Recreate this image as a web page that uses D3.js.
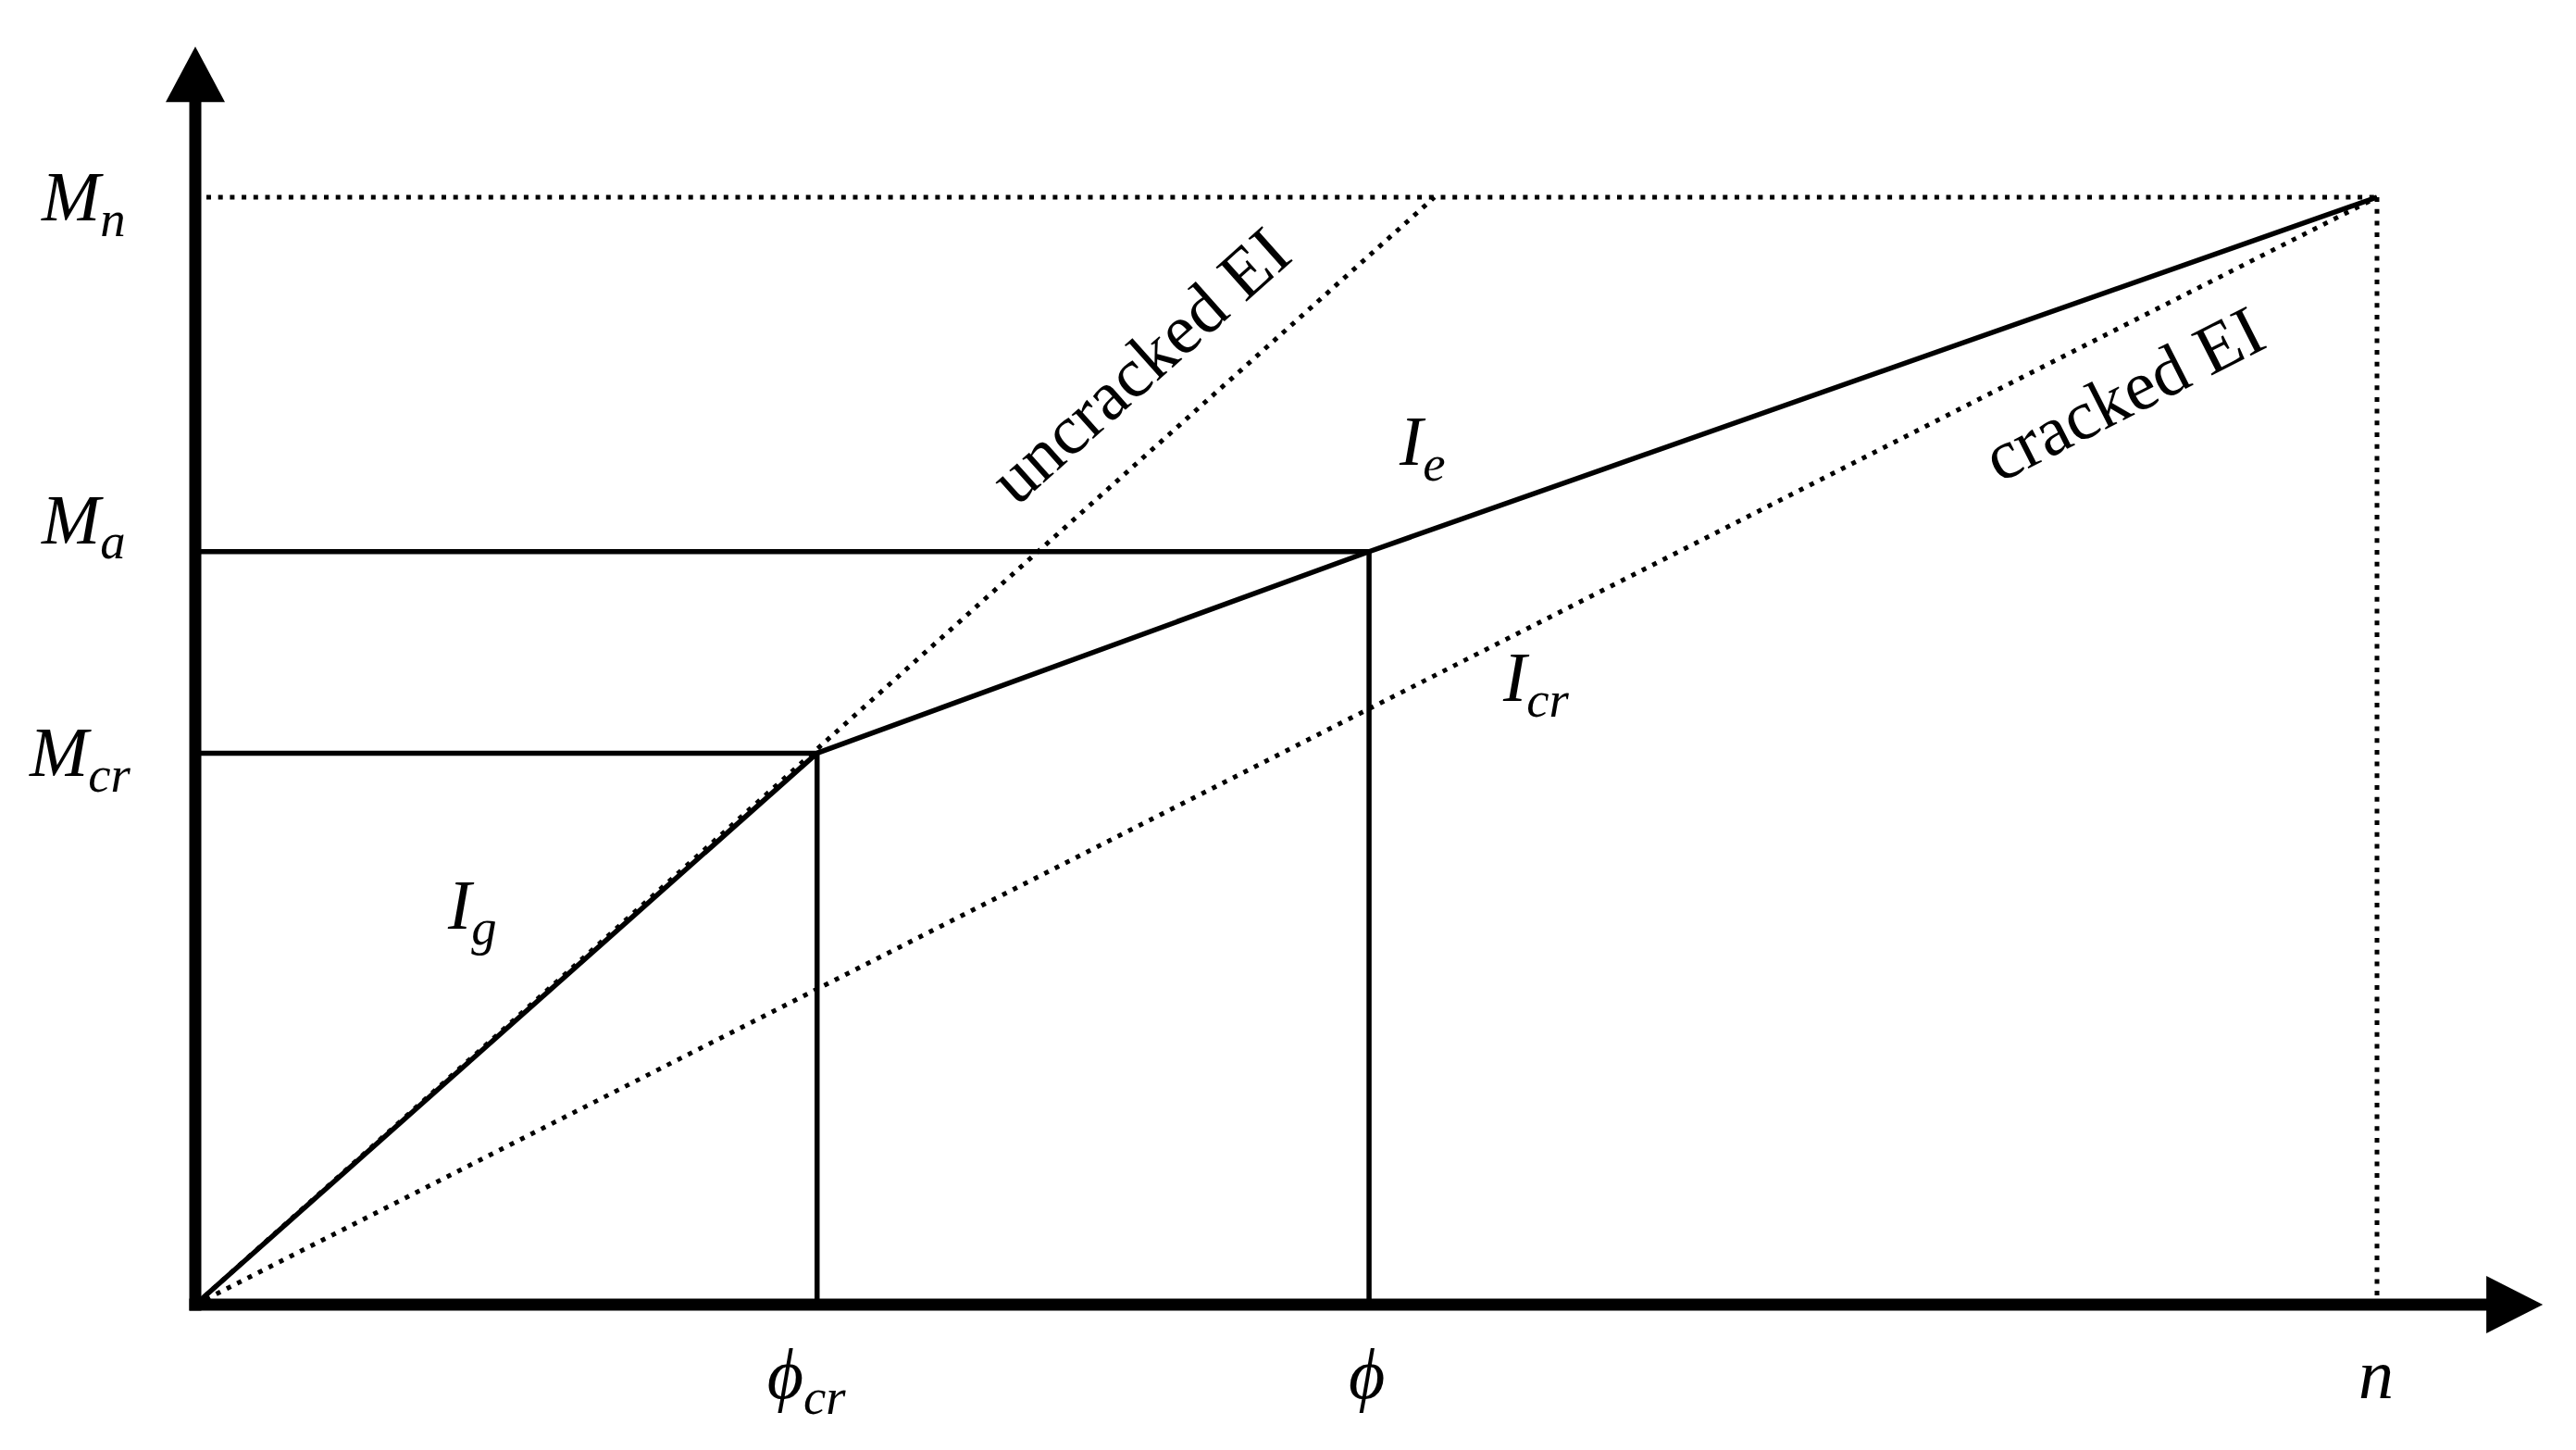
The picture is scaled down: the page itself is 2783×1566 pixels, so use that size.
<!DOCTYPE html>
<html>
<head>
<meta charset="utf-8">
<script src="https://cdn.jsdelivr.net/npm/d3@7"></script>
<style>
  html, body { margin: 0; padding: 0; background: #fff; }
  svg { display: block; }
  .math { font-family: "Liberation Serif", "DejaVu Serif", serif; font-style: italic; fill: #000; }
  .note { font-family: "Liberation Serif", "DejaVu Serif", serif; fill: #000; }
</style>
</head>
<body>
<svg id="chart" width="2783" height="1566"></svg>
<script>
// ---------- data ----------
// x-axis key values (curvature), in relative units where n = 100
const xTickMain  = ["\u03D5", "\u03D5", "n"];
const xTickSub   = ["cr", "", ""];
const xTickValue = [28.5, 53.8, 100];

// y-axis key values (moment), in relative units where Mn = 100
const yTickMain  = ["M", "M", "M"];
const yTickSub   = ["n", "a", "cr"];
const yTickValue = [100, 68.0, 49.8];

// solid curves
const igX = [0, 28.5];
const igY = [0, 49.8];
const ieX = [28.5, 53.8, 100];
const ieY = [49.8, 68.0, 100];

// dotted stiffness lines
const uncrackedX = [0, 56.8];
const uncrackedY = [0, 100];
const crackedX   = [0, 100];
const crackedY   = [0, 100];

// axis extents (relative units)
const xAxisMax = 107.6;
const yAxisMax = 113.6;

// curve labels
const curveMain = ["I", "I", "I"];
const curveSub  = ["g", "e", "cr"];
const noteText  = ["uncracked EI", "cracked EI"];

// ---------- layout ----------
const svg = d3.select("#chart");
const x = d3.scaleLinear().domain([0, 100]).range([211, 2568]);
const y = d3.scaleLinear().domain([0, 100]).range([1409, 213]);

const line = d3.line().x(d => x(d[0])).y(d => y(d[1]));
const zip = (a, b) => a.map((v, i) => [v, b[i]]);

const DOT = { stroke: "#000", "stroke-width": 5, "stroke-dasharray": "5 7.7", fill: "none" };
const SOLID = { stroke: "#000", "stroke-width": 5.5, fill: "none" };
function applyAttrs(sel, attrs) { Object.entries(attrs).forEach(([k, v]) => sel.attr(k, v)); return sel; }

// dotted reference lines: Mn horizontal, n vertical
applyAttrs(svg.append("path").attr("d", line([[0, yTickValue[0]], [xTickValue[2], yTickValue[0]]])), DOT)
  .attr("stroke-dashoffset", -12);
applyAttrs(svg.append("path").attr("d", line([[xTickValue[2], yTickValue[0]], [xTickValue[2], 0]])), DOT);

// dotted EI lines
applyAttrs(svg.append("path").attr("d", line(zip(uncrackedX, uncrackedY))), DOT);
applyAttrs(svg.append("path").attr("d", line(zip(crackedX, crackedY))), DOT);

// solid projection lines
applyAttrs(svg.append("path").attr("d", line([[0, yTickValue[1]], [xTickValue[1], yTickValue[1]], [xTickValue[1], 0]])), SOLID);
applyAttrs(svg.append("path").attr("d", line([[0, yTickValue[2]], [xTickValue[0], yTickValue[2]], [xTickValue[0], 0]])), SOLID);

// solid curves
applyAttrs(svg.append("path").attr("d", line(zip(igX, igY))), SOLID).attr("stroke-linejoin", "round");
applyAttrs(svg.append("path").attr("d", line(zip(ieX, ieY))), SOLID).attr("stroke-linejoin", "round");

// axes with arrowheads
const AX = 13;
svg.append("line").attr("x1", x(0)).attr("x2", x(0))
  .attr("y1", y(0) + AX / 2).attr("y2", y(yAxisMax) + 58)
  .attr("stroke", "#000").attr("stroke-width", AX);
svg.append("line").attr("x1", x(0) - AX / 2).attr("x2", x(xAxisMax) - 60)
  .attr("y1", y(0)).attr("y2", y(0))
  .attr("stroke", "#000").attr("stroke-width", AX);
svg.append("path")
  .attr("d", `M${x(0)},${y(yAxisMax)} L${x(0) + 32},${y(yAxisMax) + 60} L${x(0) - 32},${y(yAxisMax) + 60} Z`)
  .attr("fill", "#000");
svg.append("path")
  .attr("d", `M${x(xAxisMax)},${y(0)} L${x(xAxisMax) - 61},${y(0) - 31} L${x(xAxisMax) - 61},${y(0) + 31} Z`)
  .attr("fill", "#000");

// label helper
function mathLabel(px, py, main, sub, size, anchor) {
  const t = svg.append("text").attr("class", "math").attr("x", px).attr("y", py)
    .attr("font-size", size).attr("text-anchor", anchor || "start");
  t.append("tspan").text(main);
  if (sub) t.append("tspan").attr("dy", size * 0.22).attr("font-size", size * 0.72).text(sub);
  return t;
}

// y labels (pixel offsets relative to tick position)
const yLabelDX = [45, 45, 32];
const yLabelDY = [25, -9, 25];
yTickValue.forEach((v, i) => mathLabel(yLabelDX[i], y(v) + yLabelDY[i], yTickMain[i], yTickSub[i], 76));

// x labels
const xLabelDX = [-54, -22, -20];
xTickValue.forEach((v, i) => mathLabel(x(v) + xLabelDX[i], 1510, xTickMain[i], xTickSub[i], 76));

// curve labels
const curvePos = [[484, 1003], [1512, 502], [1624, 757]];
curveMain.forEach((m, i) => mathLabel(curvePos[i][0], curvePos[i][1], m, curveSub[i], 76));

// rotated notes aligned with their lines
const angU = Math.atan2(y(0) - y(uncrackedY[1]), x(uncrackedX[1]) - x(0)) * 180 / Math.PI;
const angC = Math.atan2(y(0) - y(crackedY[1]), x(crackedX[1]) - x(0)) * 180 / Math.PI;
svg.append("text").attr("class", "note").attr("font-size", 76)
  .attr("transform", `translate(1098,548) rotate(${-angU})`).text(noteText[0]);
svg.append("text").attr("class", "note").attr("font-size", 76)
  .attr("transform", `translate(2160,522) rotate(${-angC})`).text(noteText[1]);
</script>
</body>
</html>
